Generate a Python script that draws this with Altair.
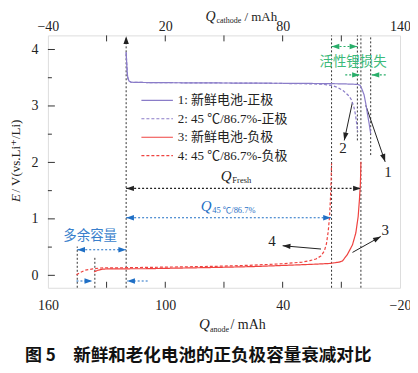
import altair as alt
import pandas as pd

# ---------------- data ----------------
# cathode curves: Q_cathode (mAh) vs E (V)
cat_fresh_q = [0, 0.3, 0.6, 0.9, 1.5, 2.5, 10, 30, 60, 90, 105, 112, 116, 118.5, 119.6, 120.5, 121.6, 122.5, 123.3, 124.2, 125.0]
cat_fresh_e = [3.95, 3.75, 3.57, 3.49, 3.44, 3.42, 3.415, 3.41, 3.405, 3.40, 3.395, 3.39, 3.385, 3.38, 3.365, 3.30, 3.20, 3.04, 2.87, 2.69, 2.51]
cat_aged_q = [0, 0.3, 0.6, 0.9, 1.5, 2.5, 10, 30, 60, 90, 100, 105, 108, 111, 113.5, 115, 116.3, 117.2, 117.8, 118.4]
cat_aged_e = [3.95, 3.75, 3.57, 3.49, 3.44, 3.42, 3.415, 3.41, 3.405, 3.395, 3.385, 3.365, 3.33, 3.27, 3.19, 3.12, 3.0, 2.85, 2.70, 2.54]
# anode curves: Q_anode (mAh) vs E (V)
an_fresh_q = [136.4, 134.5, 132, 128, 110, 90, 74, 55, 40, 25, 16, 11, 9.4, 6.9, 4.3, 2.6, 1.4, 0.75, 0.25, 0.05, 0.0]
an_fresh_e = [0.06, 0.09, 0.11, 0.115, 0.117, 0.13, 0.14, 0.155, 0.175, 0.195, 0.21, 0.235, 0.255, 0.37, 0.54, 0.75, 1.04, 1.34, 1.63, 1.92, 2.01]
an_aged_q = [145.4, 143.5, 141, 137, 133, 120, 100, 74, 55, 40, 30, 26, 23, 20.5, 18.7, 17.6, 16.7, 16.0, 15.5, 15.2, 15.0]
an_aged_e = [0.01, 0.05, 0.09, 0.115, 0.13, 0.135, 0.145, 0.16, 0.18, 0.205, 0.235, 0.26, 0.29, 0.34, 0.43, 0.56, 0.78, 1.05, 1.40, 1.72, 1.98]

series = ["1: 新鲜电池-正极", "2: 45 ℃/86.7%-正极", "3: 新鲜电池-负极", "4: 45 ℃/86.7%-负极"]

bottom_labels = [160, 100, 40, -20]
bottom_minor = [130, 100, 70, 40, 10]
top_labels = [-40, 20, 80, 140]
top_minor = [-10, 20, 50, 80, 110]
y_labels = [0, 1, 2, 3, 4]
y_minor = [0.5, 1.5, 2.5, 3.5]

# annotation geometry (in data units)
anode_vlines_q = [120, 145, 136, 15, 0]
anode_vlines_v1 = [-0.22, -0.22, -0.22, -0.22, -0.22]
anode_vlines_v2 = [4.2, 0.51, 0.31, 4.25, 4.25]
cat_vlines_q = [118.2, 125.0]
cat_vlines_v1 = [2.39, 2.13]
cat_vlines_v2 = [4.25, 4.25]

an_arrow_q1 = [120, 120, 145, 145.4, 109]
an_arrow_q2 = [0, 15.3, 120, 137.3, 119.5]
an_arrow_v = [1.54, 1.02, 0.454, -0.1, -0.1]
an_arrow_c = ["#222222", "#1f6fc5", "#1f6fc5", "#1f6fc5", "#1f6fc5"]
cat_arrow_q1 = [105, 112.0, 132.7]
cat_arrow_q2 = [118.2, 119.5, 125.4]
cat_arrow_v = [4.053, 3.55, 3.55]

an_heads_q = [120, 120, 0, 120, 15.3, 145, 120, 137.3, 119.5, -10.2, 40.0]
an_heads_v = [4.235, 1.54, 1.54, 1.02, 1.02, 0.454, 0.454, -0.1, -0.1, 0.688, 0.524]
an_heads_a = [0, 270, 90, 270, 90, 270, 90, 90, 270, 61, 275]
an_heads_c = ["#222222"] * 3 + ["#1f6fc5"] * 6 + ["#222222"] * 2
cat_heads_q = [105, 118.2, 119.5, 125.4, 111.5, 132.4]
cat_heads_v = [4.053, 4.053, 3.55, 3.55, 2.39, 2.01]
cat_heads_a = [270, 90, 90, 270, 192, 161]
cat_heads_c = ["#2aae6a"] * 4 + ["#222222"] * 2

an_slant = {"q1": [4.3, 20.4], "q2": [-10.2, 40.0], "v1": [0.406, 0.466], "v2": [0.688, 0.524]}
cat_slant = {"q1": [115.7, 122.5], "q2": [111.5, 132.4], "v1": [3.07, 3.01], "v2": [2.39, 2.01]}

an_nums = {"q": [-12.4, 45.5], "v": [0.807, 0.60], "t": ["3", "4"]}
cat_nums = {"q": [110.9, 133.9], "v": [2.253, 1.835], "t": ["2", "1"]}

# ---------------- styling ----------------
SERIF = "Liberation Serif, Noto Sans CJK SC"
CJK = "Noto Sans CJK SC"
DARK = "#222222"
PURPLE = "#8a7cc8"
RED = "#ef4340"
BLUE = "#1f6fc5"
GREEN = "#2aae6a"
W, H = 353, 253
HEAD = "M0,0L-0.9,2.6L0.9,2.6Z"

yscale = alt.Scale(domain=[-0.22, 4.25], nice=False, zero=False)
yaxis = alt.Axis(values=y_labels, format="d", ticks=False, domain=False, grid=False, title=None,
                 labelFont="Liberation Serif", labelFontSize=14, labelPadding=10, labelColor=DARK)
xa_scale = alt.Scale(domain=[-20, 160], reverse=True, nice=False, zero=False)
xa_axis = alt.Axis(orient="bottom", values=bottom_labels, format="d", ticks=False, domain=False, grid=False,
                   title=None, labelFont="Liberation Serif", labelFontSize=14, labelPadding=11,
                   labelFlush=False, labelOverlap=False, labelColor=DARK)
xc_scale = alt.Scale(domain=[-40, 140], nice=False, zero=False)
xc_axis = alt.Axis(orient="top", values=top_labels, format="d", ticks=False, domain=False, grid=False,
                   title=None, labelFont="Liberation Serif", labelFontSize=14, labelPadding=2,
                   labelFlush=False, labelOverlap=False, labelColor=DARK)


def Y(f):
    return alt.Y(f"{f}:Q", scale=yscale, axis=yaxis)


def XA(f):
    return alt.X(f"{f}:Q", scale=xa_scale, axis=xa_axis)


def XC(f):
    return alt.X(f"{f}:Q", scale=xc_scale, axis=xc_axis)


one = pd.DataFrame({"k": [0]})


def ptext(txt, x, y, size, font=SERIF, style="normal", align="left", baseline="alphabetic",
          color=DARK, angle=0, weight="normal"):
    return alt.Chart(one).mark_text(text=txt, font=font, fontSize=size, fontStyle=style, align=align,
                                    baseline=baseline, color=color, angle=angle, fontWeight=weight
                                    ).encode(x=alt.value(x), y=alt.value(y))


# ---------------- anode layer ----------------
an_df = pd.concat([
    pd.DataFrame({"q": an_fresh_q, "e": an_fresh_e, "s": series[2], "i": range(len(an_fresh_q))}),
    pd.DataFrame({"q": an_aged_q, "e": an_aged_e, "s": series[3], "i": range(len(an_aged_q))}),
])
an_lines = alt.Chart(an_df).mark_line(strokeWidth=1.2, color=RED).encode(
    x=XA("q"), y=Y("e"), order="i:Q",
    strokeDash=alt.StrokeDash("s:N", scale=alt.Scale(domain=series[2:], range=[[1, 0], [3, 2]]), legend=None))

leg_df = pd.DataFrame({"label": series, "k": range(4)})
leg_df["y"] = 3.10 - 0.327 * leg_df["k"]
leg_df["x1"] = 112.2
leg_df["x2"] = 96.1
leg_df["tx"] = 93.6
leg_lines = alt.Chart(leg_df).mark_rule(strokeWidth=1.2).encode(
    x=XA("x1"), x2="x2", y=Y("y"),
    color=alt.Color("label:N", scale=alt.Scale(domain=series, range=[PURPLE, PURPLE, RED, RED]), legend=None),
    strokeDash=alt.StrokeDash("label:N", scale=alt.Scale(domain=series, range=[[1, 0], [3, 2], [1, 0], [3, 2]]), legend=None))
leg_text = alt.Chart(leg_df).mark_text(align="left", baseline="middle", font=SERIF, fontSize=13, color=DARK).encode(
    x=XA("tx"), y=Y("y"), text="label:N")

an_vl = alt.Chart(pd.DataFrame({"q": anode_vlines_q, "v1": anode_vlines_v1, "v2": anode_vlines_v2})).mark_rule(
    strokeDash=[2, 2], color="#333333", strokeWidth=1).encode(x=XA("q"), y=Y("v1"), y2="v2")
an_arr = alt.Chart(pd.DataFrame({"q1": an_arrow_q1, "q2": an_arrow_q2, "v": an_arrow_v, "c": an_arrow_c})).mark_rule(
    strokeDash=[2, 2], strokeWidth=1.1).encode(x=XA("q1"), x2="q2", y=Y("v"), color=alt.Color("c:N", scale=None))
an_heads = alt.Chart(pd.DataFrame({"q": an_heads_q, "v": an_heads_v, "a": an_heads_a, "c": an_heads_c})).mark_point(
    shape=HEAD, filled=True, size=36, opacity=1, strokeWidth=0).encode(
    x=XA("q"), y=Y("v"), angle=alt.Angle("a:Q", scale=None), color=alt.Color("c:N", scale=None))
an_sl = alt.Chart(pd.DataFrame(an_slant)).mark_rule(color=DARK, strokeWidth=1).encode(
    x=XA("q1"), x2="q2", y=Y("v1"), y2="v2")
an_num = alt.Chart(pd.DataFrame(an_nums)).mark_text(font="Liberation Serif", fontSize=15, color=DARK,
                                                   baseline="middle").encode(x=XA("q"), y=Y("v"), text="t:N")
an_cjk = alt.Chart(pd.DataFrame({"q": [138.4], "v": [0.69], "t": ["多余容量"]})).mark_text(
    font=CJK, fontSize=13.5, color="#3a7fcc", baseline="middle").encode(x=XA("q"), y=Y("v"), text="t:N")
qlab = alt.Chart(pd.DataFrame({"q": [68.9, 79.1], "v": [1.67, 1.142], "t": ["Q", "Q"], "c": [DARK, BLUE]})).mark_text(
    font="Liberation Serif", fontStyle="italic", fontSize=15, baseline="alphabetic").encode(
    x=XA("q"), y=Y("v"), text="t:N", color=alt.Color("c:N", scale=None))
qsub = alt.Chart(pd.DataFrame({"q": [65.7, 76.0], "v": [1.635, 1.10], "t": ["Fresh", "45 ℃/86.7%"], "c": [DARK, BLUE]})).mark_text(
    font=SERIF, fontSize=8.5, align="left", baseline="alphabetic").encode(
    x=XA("q"), y=Y("v"), text="t:N", color=alt.Color("c:N", scale=None))

bt = alt.Chart(pd.DataFrame({"q": bottom_minor})).mark_rule(color="#333333").encode(
    x=XA("q"), y=alt.value(H), y2=alt.value(H - 6))
ytk = alt.Chart(pd.DataFrame({"v": y_labels})).mark_rule(color="#333333").encode(
    y=Y("v"), x=alt.value(0), x2=alt.value(7))
ytm = alt.Chart(pd.DataFrame({"v": y_minor})).mark_rule(color="#333333").encode(
    y=Y("v"), x=alt.value(0), x2=alt.value(4))

titles = [
    ptext("Q", 157, 294.3, 15, font="Liberation Serif", style="italic", align="center"),
    ptext("anode", 162.5, 297, 8),
    ptext("/ mAh", 183, 294.3, 14),
    ptext("Q", 163, -14, 14, font="Liberation Serif", style="italic", align="center"),
    ptext("cathode", 169, -12, 8),
    ptext("/ mAh", 197, -14, 13),
    ptext("E", -31.5, 167, 13, font="Liberation Serif", style="italic", baseline="middle", angle=270),
    ptext(" / V(vs.Li⁺/Li)", -31.5, 157.5, 13, font="Liberation Serif, DejaVu Serif", baseline="middle", angle=270),
    ptext("图 5", -23, 321, 17, font=CJK, baseline="middle", weight="bold", color="#111111"),
    ptext("新鲜和老化电池的正负极容量衰减对比", 25.3, 321, 17.6, font=CJK, baseline="middle", weight="bold",
          color="#111111"),
]

anode = alt.layer(an_vl, an_arr, an_sl, an_lines, leg_lines, leg_text, an_heads, an_num, an_cjk, qlab, qsub,
                  bt, ytk, ytm, *titles)

# ---------------- cathode layer ----------------
cat_df = pd.concat([
    pd.DataFrame({"q": cat_fresh_q, "e": cat_fresh_e, "s": series[0], "i": range(len(cat_fresh_q))}),
    pd.DataFrame({"q": cat_aged_q, "e": cat_aged_e, "s": series[1], "i": range(len(cat_aged_q))}),
])
cat_lines = alt.Chart(cat_df).mark_line(strokeWidth=1.2, color=PURPLE).encode(
    x=XC("q"), y=Y("e"), order="i:Q",
    strokeDash=alt.StrokeDash("s:N", scale=alt.Scale(domain=series[:2], range=[[1, 0], [3, 2]]), legend=None))
cat_vl = alt.Chart(pd.DataFrame({"q": cat_vlines_q, "v1": cat_vlines_v1, "v2": cat_vlines_v2})).mark_rule(
    strokeDash=[2, 2], color="#333333", strokeWidth=1).encode(x=XC("q"), y=Y("v1"), y2="v2")
cat_arr = alt.Chart(pd.DataFrame({"q1": cat_arrow_q1, "q2": cat_arrow_q2, "v": cat_arrow_v})).mark_rule(
    strokeDash=[2, 2], strokeWidth=1.1, color=GREEN).encode(x=XC("q1"), x2="q2", y=Y("v"))
cat_hd = alt.Chart(pd.DataFrame({"q": cat_heads_q, "v": cat_heads_v, "a": cat_heads_a, "c": cat_heads_c})).mark_point(
    shape=HEAD, filled=True, size=36, opacity=1, strokeWidth=0).encode(
    x=XC("q"), y=Y("v"), angle=alt.Angle("a:Q", scale=None), color=alt.Color("c:N", scale=None))
cat_sl = alt.Chart(pd.DataFrame(cat_slant)).mark_rule(color=DARK, strokeWidth=1).encode(
    x=XC("q1"), x2="q2", y=Y("v1"), y2="v2")
cat_num = alt.Chart(pd.DataFrame(cat_nums)).mark_text(font="Liberation Serif", fontSize=15, color=DARK,
                                                     baseline="middle").encode(x=XC("q"), y=Y("v"), text="t:N")
cat_cjk = alt.Chart(pd.DataFrame({"q": [116.0], "v": [3.78], "t": ["活性锂损失"]})).mark_text(
    font=CJK, fontSize=13.5, color="#3cba7a", baseline="middle").encode(x=XC("q"), y=Y("v"), text="t:N")
tt = alt.Chart(pd.DataFrame({"q": top_minor})).mark_rule(color="#333333").encode(
    x=XC("q"), y=alt.value(0), y2=alt.value(6))

cathode = alt.layer(cat_vl, cat_arr, cat_sl, cat_lines, cat_hd, cat_num, cat_cjk, tt)

chart = alt.layer(anode, cathode).resolve_scale(x="independent").properties(
    width=W, height=H,
    autosize=alt.AutoSizeParams(type="none"),
    padding={"left": 40, "top": 27, "right": 10, "bottom": 80},
).configure_view(stroke="#333333", strokeWidth=1).configure(background="white")

chart.save("out.html", embed_options={"renderer": "svg", "actions": False})
